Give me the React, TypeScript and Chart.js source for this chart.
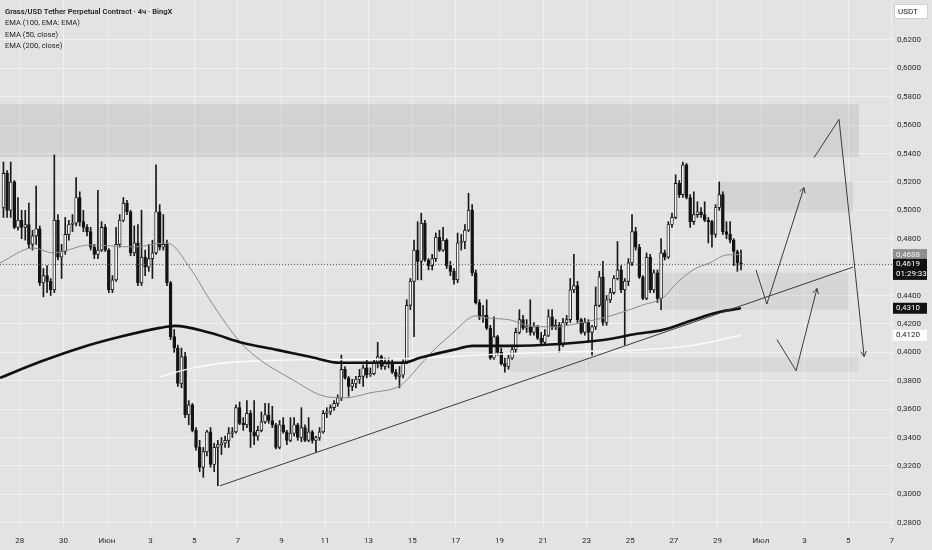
import { useEffect, useRef } from 'react';
import { Chart, registerables } from 'chart.js';

Chart.register(...registerables);

// ---- time axis: days since 27 May 00:00 (28 May = 1) ----
const X_MIN = 0.0917;
const X_MAX = 41.055;
const FIRST_CANDLE_DAY = 0.25; // 27 May 04:00 candle centre
const CANDLE_DAYS = 1 / 6; // 4h

const xTickDays = [1, 3, 5, 7, 9, 11, 13, 15, 17, 19, 21, 23, 25, 27, 29, 31, 33, 35, 37, 39, 41];
const xTickLabels = ['28', '30', 'Июн', '3', '5', '7', '9', '11', '13', '15', '17', '19', '21', '23', '25', '27', '29', 'Июл', '3', '5', '7'];

const Y_MIN = 0.27486;
const Y_MAX = 0.6481;
const yTickValues = [0.28, 0.3, 0.32, 0.34, 0.36, 0.38, 0.4, 0.42, 0.44, 0.46, 0.48, 0.5, 0.52, 0.54, 0.56, 0.58, 0.6, 0.62];

// ---- candles (4h) ----
const opens = [
  0.502, 0.526, 0.500, 0.520, 0.488, 0.493, 0.488, 0.490, 0.476, 0.482,
  0.487, 0.449, 0.454, 0.450, 0.444, 0.493, 0.467, 0.471, 0.483, 0.490,
  0.491, 0.509, 0.492, 0.488, 0.485, 0.474, 0.469, 0.472, 0.488, 0.472,
  0.444, 0.451, 0.476, 0.493, 0.505, 0.499, 0.470, 0.477, 0.449, 0.467,
  0.460, 0.466, 0.470, 0.499, 0.474, 0.476, 0.449, 0.411, 0.403, 0.378,
  0.397, 0.356, 0.363, 0.345, 0.333, 0.319, 0.330, 0.344, 0.321, 0.333,
  0.335, 0.336, 0.338, 0.343, 0.344, 0.361, 0.350, 0.349, 0.357, 0.344,
  0.341, 0.345, 0.351, 0.356, 0.352, 0.349, 0.333, 0.349, 0.344, 0.338,
  0.343, 0.349, 0.340, 0.347, 0.338, 0.344, 0.338, 0.340, 0.344, 0.357,
  0.358, 0.361, 0.364, 0.368, 0.388, 0.382, 0.376, 0.378, 0.381, 0.383,
  0.389, 0.384, 0.385, 0.393, 0.397, 0.390, 0.392, 0.393, 0.386, 0.383,
  0.384, 0.393, 0.433, 0.450, 0.472, 0.464, 0.491, 0.465, 0.461, 0.466,
  0.481, 0.472, 0.479, 0.461, 0.457, 0.451, 0.477, 0.478, 0.486, 0.500,
  0.456, 0.435, 0.425, 0.426, 0.417, 0.396, 0.411, 0.400, 0.392, 0.390,
  0.396, 0.402, 0.414, 0.423, 0.417, 0.418, 0.414, 0.418, 0.410, 0.407,
  0.412, 0.425, 0.418, 0.419, 0.405, 0.421, 0.423, 0.444, 0.447, 0.423,
  0.414, 0.421, 0.414, 0.418, 0.433, 0.453, 0.421, 0.437, 0.442, 0.452,
  0.458, 0.444, 0.450, 0.463, 0.485, 0.474, 0.453, 0.438, 0.467, 0.444,
  0.456, 0.438, 0.470, 0.467, 0.490, 0.495, 0.519, 0.511, 0.532, 0.509,
  0.492, 0.497, 0.499, 0.497, 0.493, 0.492, 0.483, 0.502, 0.511, 0.485,
  0.483, 0.479, 0.471, 0.463,
];
const highs = [
  0.534, 0.528, 0.534, 0.521, 0.509, 0.500, 0.500, 0.505, 0.486, 0.517,
  0.489, 0.459, 0.461, 0.452, 0.539, 0.497, 0.476, 0.495, 0.493, 0.497,
  0.523, 0.513, 0.500, 0.490, 0.488, 0.476, 0.514, 0.492, 0.490, 0.473,
  0.454, 0.488, 0.497, 0.509, 0.507, 0.500, 0.489, 0.490, 0.500, 0.472,
  0.476, 0.479, 0.532, 0.504, 0.497, 0.479, 0.450, 0.416, 0.405, 0.403,
  0.400, 0.366, 0.364, 0.347, 0.338, 0.333, 0.345, 0.347, 0.336, 0.338,
  0.340, 0.341, 0.347, 0.347, 0.363, 0.365, 0.354, 0.366, 0.359, 0.366,
  0.348, 0.358, 0.364, 0.364, 0.362, 0.350, 0.352, 0.354, 0.345, 0.354,
  0.354, 0.350, 0.361, 0.349, 0.354, 0.345, 0.341, 0.347, 0.359, 0.361,
  0.363, 0.366, 0.370, 0.398, 0.390, 0.383, 0.381, 0.383, 0.388, 0.391,
  0.395, 0.389, 0.395, 0.407, 0.398, 0.396, 0.396, 0.395, 0.388, 0.390,
  0.395, 0.437, 0.452, 0.479, 0.492, 0.498, 0.493, 0.466, 0.469, 0.484,
  0.486, 0.488, 0.480, 0.464, 0.459, 0.484, 0.483, 0.490, 0.512, 0.504,
  0.458, 0.437, 0.433, 0.437, 0.419, 0.425, 0.412, 0.403, 0.396, 0.398,
  0.405, 0.417, 0.430, 0.426, 0.423, 0.437, 0.421, 0.419, 0.414, 0.416,
  0.430, 0.430, 0.423, 0.421, 0.424, 0.426, 0.452, 0.469, 0.450, 0.424,
  0.424, 0.423, 0.419, 0.446, 0.457, 0.464, 0.440, 0.445, 0.454, 0.478,
  0.461, 0.452, 0.466, 0.497, 0.488, 0.476, 0.454, 0.470, 0.469, 0.458,
  0.458, 0.480, 0.472, 0.492, 0.498, 0.525, 0.521, 0.534, 0.533, 0.511,
  0.513, 0.506, 0.502, 0.506, 0.495, 0.493, 0.504, 0.520, 0.513, 0.492,
  0.492, 0.480, 0.472, 0.472,
];
const lows = [
  0.495, 0.495, 0.495, 0.487, 0.486, 0.480, 0.479, 0.473, 0.472, 0.476,
  0.447, 0.439, 0.442, 0.440, 0.442, 0.465, 0.452, 0.469, 0.479, 0.485,
  0.489, 0.489, 0.485, 0.482, 0.472, 0.466, 0.466, 0.471, 0.471, 0.442,
  0.442, 0.450, 0.474, 0.492, 0.497, 0.468, 0.468, 0.447, 0.447, 0.454,
  0.457, 0.452, 0.469, 0.472, 0.472, 0.447, 0.409, 0.400, 0.376, 0.375,
  0.354, 0.349, 0.344, 0.331, 0.316, 0.312, 0.327, 0.319, 0.316, 0.306,
  0.328, 0.333, 0.333, 0.340, 0.343, 0.349, 0.345, 0.347, 0.333, 0.335,
  0.338, 0.344, 0.350, 0.350, 0.347, 0.332, 0.332, 0.343, 0.335, 0.337,
  0.341, 0.338, 0.337, 0.337, 0.337, 0.336, 0.330, 0.338, 0.343, 0.354,
  0.356, 0.359, 0.362, 0.366, 0.381, 0.369, 0.373, 0.375, 0.378, 0.376,
  0.382, 0.383, 0.384, 0.389, 0.388, 0.388, 0.389, 0.385, 0.381, 0.375,
  0.382, 0.392, 0.430, 0.411, 0.451, 0.451, 0.464, 0.458, 0.458, 0.464,
  0.471, 0.471, 0.459, 0.454, 0.448, 0.449, 0.472, 0.473, 0.485, 0.454,
  0.434, 0.423, 0.421, 0.416, 0.395, 0.395, 0.398, 0.391, 0.386, 0.388,
  0.395, 0.400, 0.413, 0.416, 0.414, 0.412, 0.412, 0.409, 0.405, 0.405,
  0.411, 0.416, 0.416, 0.400, 0.404, 0.419, 0.421, 0.442, 0.421, 0.413,
  0.412, 0.407, 0.398, 0.416, 0.432, 0.419, 0.419, 0.435, 0.441, 0.451,
  0.442, 0.405, 0.447, 0.461, 0.472, 0.452, 0.437, 0.437, 0.442, 0.442,
  0.435, 0.430, 0.465, 0.466, 0.488, 0.494, 0.509, 0.509, 0.508, 0.488,
  0.490, 0.495, 0.495, 0.492, 0.477, 0.474, 0.481, 0.500, 0.483, 0.480,
  0.477, 0.461, 0.457, 0.458,
];
const closes = [
  0.526, 0.500, 0.520, 0.488, 0.493, 0.488, 0.490, 0.476, 0.482, 0.487,
  0.449, 0.454, 0.450, 0.444, 0.493, 0.467, 0.471, 0.483, 0.490, 0.491,
  0.509, 0.492, 0.488, 0.485, 0.474, 0.469, 0.472, 0.488, 0.472, 0.444,
  0.451, 0.476, 0.493, 0.505, 0.499, 0.470, 0.477, 0.449, 0.467, 0.460,
  0.466, 0.470, 0.499, 0.474, 0.476, 0.449, 0.411, 0.403, 0.378, 0.397,
  0.356, 0.363, 0.345, 0.333, 0.319, 0.330, 0.344, 0.321, 0.333, 0.335,
  0.336, 0.338, 0.343, 0.344, 0.361, 0.350, 0.349, 0.357, 0.344, 0.341,
  0.345, 0.351, 0.356, 0.352, 0.349, 0.333, 0.349, 0.344, 0.338, 0.343,
  0.349, 0.340, 0.347, 0.338, 0.344, 0.338, 0.340, 0.344, 0.357, 0.358,
  0.361, 0.364, 0.368, 0.388, 0.382, 0.376, 0.378, 0.381, 0.383, 0.389,
  0.384, 0.385, 0.393, 0.397, 0.390, 0.392, 0.393, 0.386, 0.383, 0.384,
  0.393, 0.433, 0.450, 0.472, 0.464, 0.491, 0.465, 0.461, 0.466, 0.481,
  0.472, 0.479, 0.461, 0.457, 0.451, 0.477, 0.478, 0.486, 0.500, 0.456,
  0.435, 0.425, 0.426, 0.417, 0.396, 0.411, 0.400, 0.392, 0.390, 0.396,
  0.402, 0.414, 0.423, 0.417, 0.418, 0.414, 0.418, 0.410, 0.407, 0.412,
  0.425, 0.418, 0.419, 0.405, 0.421, 0.423, 0.444, 0.447, 0.423, 0.414,
  0.421, 0.414, 0.418, 0.433, 0.453, 0.421, 0.437, 0.442, 0.452, 0.458,
  0.444, 0.450, 0.463, 0.485, 0.474, 0.453, 0.438, 0.467, 0.444, 0.456,
  0.438, 0.470, 0.467, 0.490, 0.495, 0.519, 0.511, 0.532, 0.509, 0.492,
  0.497, 0.499, 0.497, 0.493, 0.492, 0.483, 0.502, 0.511, 0.485, 0.483,
  0.479, 0.471, 0.463, 0.4619,
];

// ---- moving averages ----
const ema200Days = [0.09, 1.93, 3.76, 5.6, 7.43, 8.12, 9.72, 11.24, 12.8, 14.31, 15.69, 17.06, 18.58, 19.36, 20.87, 21.79, 23.49, 25.78, 27.75, 29.31, 30.5, 31.88, 33.12, 34.08];
const ema200 = [0.382, 0.3933, 0.4031, 0.4109, 0.4172, 0.4186, 0.4137, 0.4066, 0.4017, 0.3968, 0.3926, 0.3926, 0.3926, 0.3961, 0.4017, 0.4045, 0.4045, 0.4059, 0.4087, 0.413, 0.4158, 0.4228, 0.4285, 0.431];

const ema50Days = [0.09, 1.61, 2.52, 4.22, 6.19, 7.75, 8.81, 9.72, 11.1, 12.02, 13.53, 14.77, 15.92, 17.06, 18.44, 18.76, 19.36, 20.14, 20.87, 21.51, 21.88, 22.43, 23.49, 24.4, 25.64, 26.24, 27.75, 28.53, 29.59, 30.5, 31.15, 31.88, 32.66, 33.44, 34.08];
const ema50 = [0.463, 0.4735, 0.47, 0.4756, 0.4742, 0.477, 0.4594, 0.4369, 0.4073, 0.3947, 0.3806, 0.37, 0.3679, 0.3714, 0.3764, 0.3806, 0.3911, 0.4038, 0.4137, 0.4228, 0.4256, 0.4242, 0.4228, 0.4186, 0.4179, 0.4193, 0.4242, 0.4277, 0.4334, 0.4383, 0.4489, 0.458, 0.463, 0.4686, 0.4688];

const ema100Days = [7.43, 8.94, 10.5, 12.02, 13.53, 18.44, 22.11, 25.78, 29.45, 31.74, 34.08];
const ema100 = [0.3827, 0.389, 0.3926, 0.394, 0.3947, 0.3954, 0.3982, 0.4003, 0.4017, 0.4045, 0.412];

const LAST_PRICE = 0.4619;

// ---- drawings ----
const zoneFrom = [X_MIN, 33.12, 30.5, 23.49];
const zoneTo = [39.49, 39.22, 39.04, 39.49];
const zoneTop = [0.5748, 0.5206, 0.456, 0.3967];
const zoneBottom = [0.5375, 0.4987, 0.430, 0.3861];
const zoneShade = [0.075, 0.07, 0.055, 0.045];

const trendDays = [10.18, 39.22];
const trendPrices = [0.306, 0.46];

const arrowADays = [34.77, 35.27, 36.97];
const arrowAPrices = [0.458, 0.434, 0.516];
const arrowBDays = [35.73, 36.61, 37.57];
const arrowBPrices = [0.409, 0.387, 0.445];
const arrowCDays = [37.43, 38.58, 39.73];
const arrowCPrices = [0.537, 0.564, 0.397];

// ---- price tags on the axis ----
const tagValues = [0.4688, 0.4619, 0.431, 0.412];
const tagSubTexts = ['', '01:29:33', '', ''];
const tagFill = ['#8e8e8e', '#121212', '#121212', '#ffffff'];
const tagInk = ['#f4f4f4', '#ffffff', '#ffffff', '#1e1e1e'];

const legendLines = [
  'Grass/USD Tether Perpetual Contract · 4ч · BingX',
  'EMA (100, EMA: EMA)',
  'EMA (50, close)',
  'EMA (200, close)',
];

const FONT = 'Roboto, "Noto Sans", sans-serif';
const fmt = (v: number) => v.toFixed(4).replace('.', ',');

const pts = (days: number[], vals: number[]) => days.map((d, i) => ({ x: d, y: vals[i] }));

const overlayPlugin = {
  id: 'overlay',
  beforeDatasetsDraw(chart: any) {
    const { ctx, chartArea, scales } = chart;
    const x = scales.x;
    const y = scales.y;
    ctx.save();
    ctx.beginPath();
    ctx.rect(chartArea.left, chartArea.top, chartArea.right - chartArea.left, chartArea.bottom - chartArea.top);
    ctx.clip();
    zoneFrom.forEach((f, i) => {
      const x0 = x.getPixelForValue(f);
      const x1 = x.getPixelForValue(zoneTo[i]);
      const y0 = y.getPixelForValue(zoneTop[i]);
      const y1 = y.getPixelForValue(zoneBottom[i]);
      ctx.fillStyle = `rgba(0,0,0,${zoneShade[i]})`;
      ctx.fillRect(x0, y0, x1 - x0, y1 - y0);
    });
    ctx.restore();
  },
  afterDatasetsDraw(chart: any) {
    const { ctx } = chart;
    chart.data.datasets.forEach((ds: any, i: number) => {
      if (!ds.arrowHead) return;
      const meta = chart.getDatasetMeta(i);
      const n = meta.data.length;
      if (n < 2) return;
      const a = meta.data[n - 2];
      const b = meta.data[n - 1];
      const ang = Math.atan2(b.y - a.y, b.x - a.x);
      const len = 6;
      ctx.save();
      ctx.strokeStyle = ds.borderColor;
      ctx.lineWidth = 1;
      ctx.beginPath();
      ctx.moveTo(b.x - len * Math.cos(ang - 0.5), b.y - len * Math.sin(ang - 0.5));
      ctx.lineTo(b.x, b.y);
      ctx.lineTo(b.x - len * Math.cos(ang + 0.5), b.y - len * Math.sin(ang + 0.5));
      ctx.stroke();
      ctx.restore();
    });
  },
  afterDraw(chart: any) {
    const { ctx, chartArea, scales } = chart;
    const y = scales.y;
    const left = chartArea.right;
    const w = 34;
    ctx.save();
    // currency box
    ctx.fillStyle = '#ffffff';
    ctx.fillRect(left + 1, 4, w, 15);
    ctx.strokeStyle = '#d0d0d0';
    ctx.lineWidth = 1;
    ctx.strokeRect(left + 1.5, 4.5, w - 1, 14);
    ctx.fillStyle = '#222';
    ctx.font = `8px ${FONT}`;
    ctx.textBaseline = 'middle';
    ctx.textAlign = 'left';
    ctx.fillText('USDT', left + 5, 11.5);
    tagValues.forEach((v, i) => {
      const py = y.getPixelForValue(v);
      const h = tagSubTexts[i] ? 21 : 11;
      ctx.fillStyle = tagFill[i];
      ctx.fillRect(left, py - 5.5, w, h);
      ctx.fillStyle = tagInk[i];
      ctx.font = `8px ${FONT}`;
      ctx.fillText(fmt(v), left + 3, py);
      if (tagSubTexts[i]) ctx.fillText(tagSubTexts[i], left + 3, py + 10);
    });
    ctx.restore();
  },
};

export default function App() {
  const canvasRef = useRef<HTMLCanvasElement | null>(null);

  useEffect(() => {
    document.body.style.margin = '0';
    const canvas = canvasRef.current;
    if (!canvas) return;

    const candleDays = opens.map((_, i) => FIRST_CANDLE_DAY + i * CANDLE_DAYS);
    const bodyColors = opens.map((o, i) => (closes[i] >= o ? '#f6f6f6' : '#141414'));

    const lineBase = { type: 'line', pointRadius: 0, fill: false, tension: 0 };

    const chart = new Chart(canvas, {
      type: 'bar',
      data: {
        datasets: [
          {
            ...lineBase,
            data: pts(ema200Days, ema200),
            borderColor: '#111111',
            borderWidth: 2.6,
            cubicInterpolationMode: 'monotone',
            order: 1,
          } as any,
          {
            ...lineBase,
            data: pts(ema50Days, ema50),
            borderColor: '#8a8a8a',
            borderWidth: 1,
            cubicInterpolationMode: 'monotone',
            order: 1,
          } as any,
          {
            ...lineBase,
            data: pts(ema100Days, ema100),
            borderColor: '#fbfbfb',
            borderWidth: 1.4,
            cubicInterpolationMode: 'monotone',
            order: 1,
          } as any,
          {
            ...lineBase,
            data: [{ x: X_MIN, y: LAST_PRICE }, { x: X_MAX, y: LAST_PRICE }],
            borderColor: '#555555',
            borderWidth: 1,
            borderDash: [1, 2],
            order: 1,
          } as any,
          {
            ...lineBase,
            data: pts(trendDays, trendPrices),
            borderColor: '#3a3a3a',
            borderWidth: 1,
            order: 0,
          } as any,
          {
            ...lineBase,
            data: pts(arrowADays, arrowAPrices),
            borderColor: '#3a3a3a',
            borderWidth: 1,
            arrowHead: true,
            order: 0,
          } as any,
          {
            ...lineBase,
            data: pts(arrowBDays, arrowBPrices),
            borderColor: '#3a3a3a',
            borderWidth: 1,
            arrowHead: true,
            order: 0,
          } as any,
          {
            ...lineBase,
            data: pts(arrowCDays, arrowCPrices),
            borderColor: '#3a3a3a',
            borderWidth: 1,
            arrowHead: true,
            order: 0,
          } as any,
          {
            type: 'bar',
            data: candleDays.map((d, i) => ({ x: d, y: [lows[i], highs[i]] })),
            backgroundColor: '#1a1a1a',
            borderWidth: 0,
            barThickness: 1,
            grouped: false,
            order: 3,
          } as any,
          {
            type: 'bar',
            data: candleDays.map((d, i) => ({ x: d, y: [opens[i], closes[i]] })),
            backgroundColor: bodyColors,
            borderColor: '#141414',
            borderWidth: 0.9,
            borderSkipped: false,
            barThickness: 2.9,
            minBarLength: 1,
            grouped: false,
            order: 2,
          } as any,
        ],
      },
      options: {
        animation: false,
        responsive: true,
        maintainAspectRatio: false,
        events: [],
        layout: { padding: 0, autoPadding: false },
        plugins: { legend: { display: false }, tooltip: { enabled: false }, title: { display: false } },
        scales: {
          x: {
            type: 'linear',
            min: X_MIN,
            max: X_MAX,
            offset: false,
            grid: { color: 'rgba(255,255,255,0.45)', lineWidth: 1, drawTicks: false, offset: false },
            border: { display: false },
            ticks: {
              autoSkip: false,
              maxRotation: 0,
              padding: 6,
              color: '#2b2b2b',
              font: { family: FONT, size: 8 },
              callback: (_v: any, i: number) => xTickLabels[i] ?? '',
            },
            afterBuildTicks: (scale: any) => {
              scale.ticks = xTickDays.map((v) => ({ value: v }));
            },
            afterFit: (scale: any) => {
              scale.height = 20;
              scale.paddingLeft = 0;
              scale.paddingRight = 0;
            },
          },
          y: {
            type: 'linear',
            position: 'right',
            min: Y_MIN,
            max: Y_MAX,
            grid: { color: 'rgba(255,255,255,0.45)', lineWidth: 1, drawTicks: false },
            border: { display: false },
            ticks: {
              padding: 4,
              color: '#2b2b2b',
              font: { family: FONT, size: 8 },
              callback: (v: any) => fmt(Number(v)),
            },
            afterBuildTicks: (scale: any) => {
              scale.ticks = yTickValues.map((v) => ({ value: v }));
            },
            afterFit: (scale: any) => {
              scale.width = 39;
              scale.paddingTop = 0;
              scale.paddingBottom = 0;
            },
          },
        },
      } as any,
      plugins: [overlayPlugin],
    });

    return () => chart.destroy();
  }, []);

  return (
    <div style={{ position: 'relative', width: 932, height: 550, background: '#e3e3e3', overflow: 'hidden' }}>
      <canvas ref={canvasRef} />
      <div
        style={{
          position: 'absolute',
          left: 5,
          top: 6,
          fontFamily: FONT,
          fontSize: 7.6,
          lineHeight: '11.3px',
          color: '#1f1f1f',
          pointerEvents: 'none',
        }}
      >
        {legendLines.map((t, i) => (
          <div key={i} style={{ fontWeight: i === 0 ? 600 : 400, whiteSpace: 'nowrap' }}>
            {t}
          </div>
        ))}
      </div>
    </div>
  );
}
